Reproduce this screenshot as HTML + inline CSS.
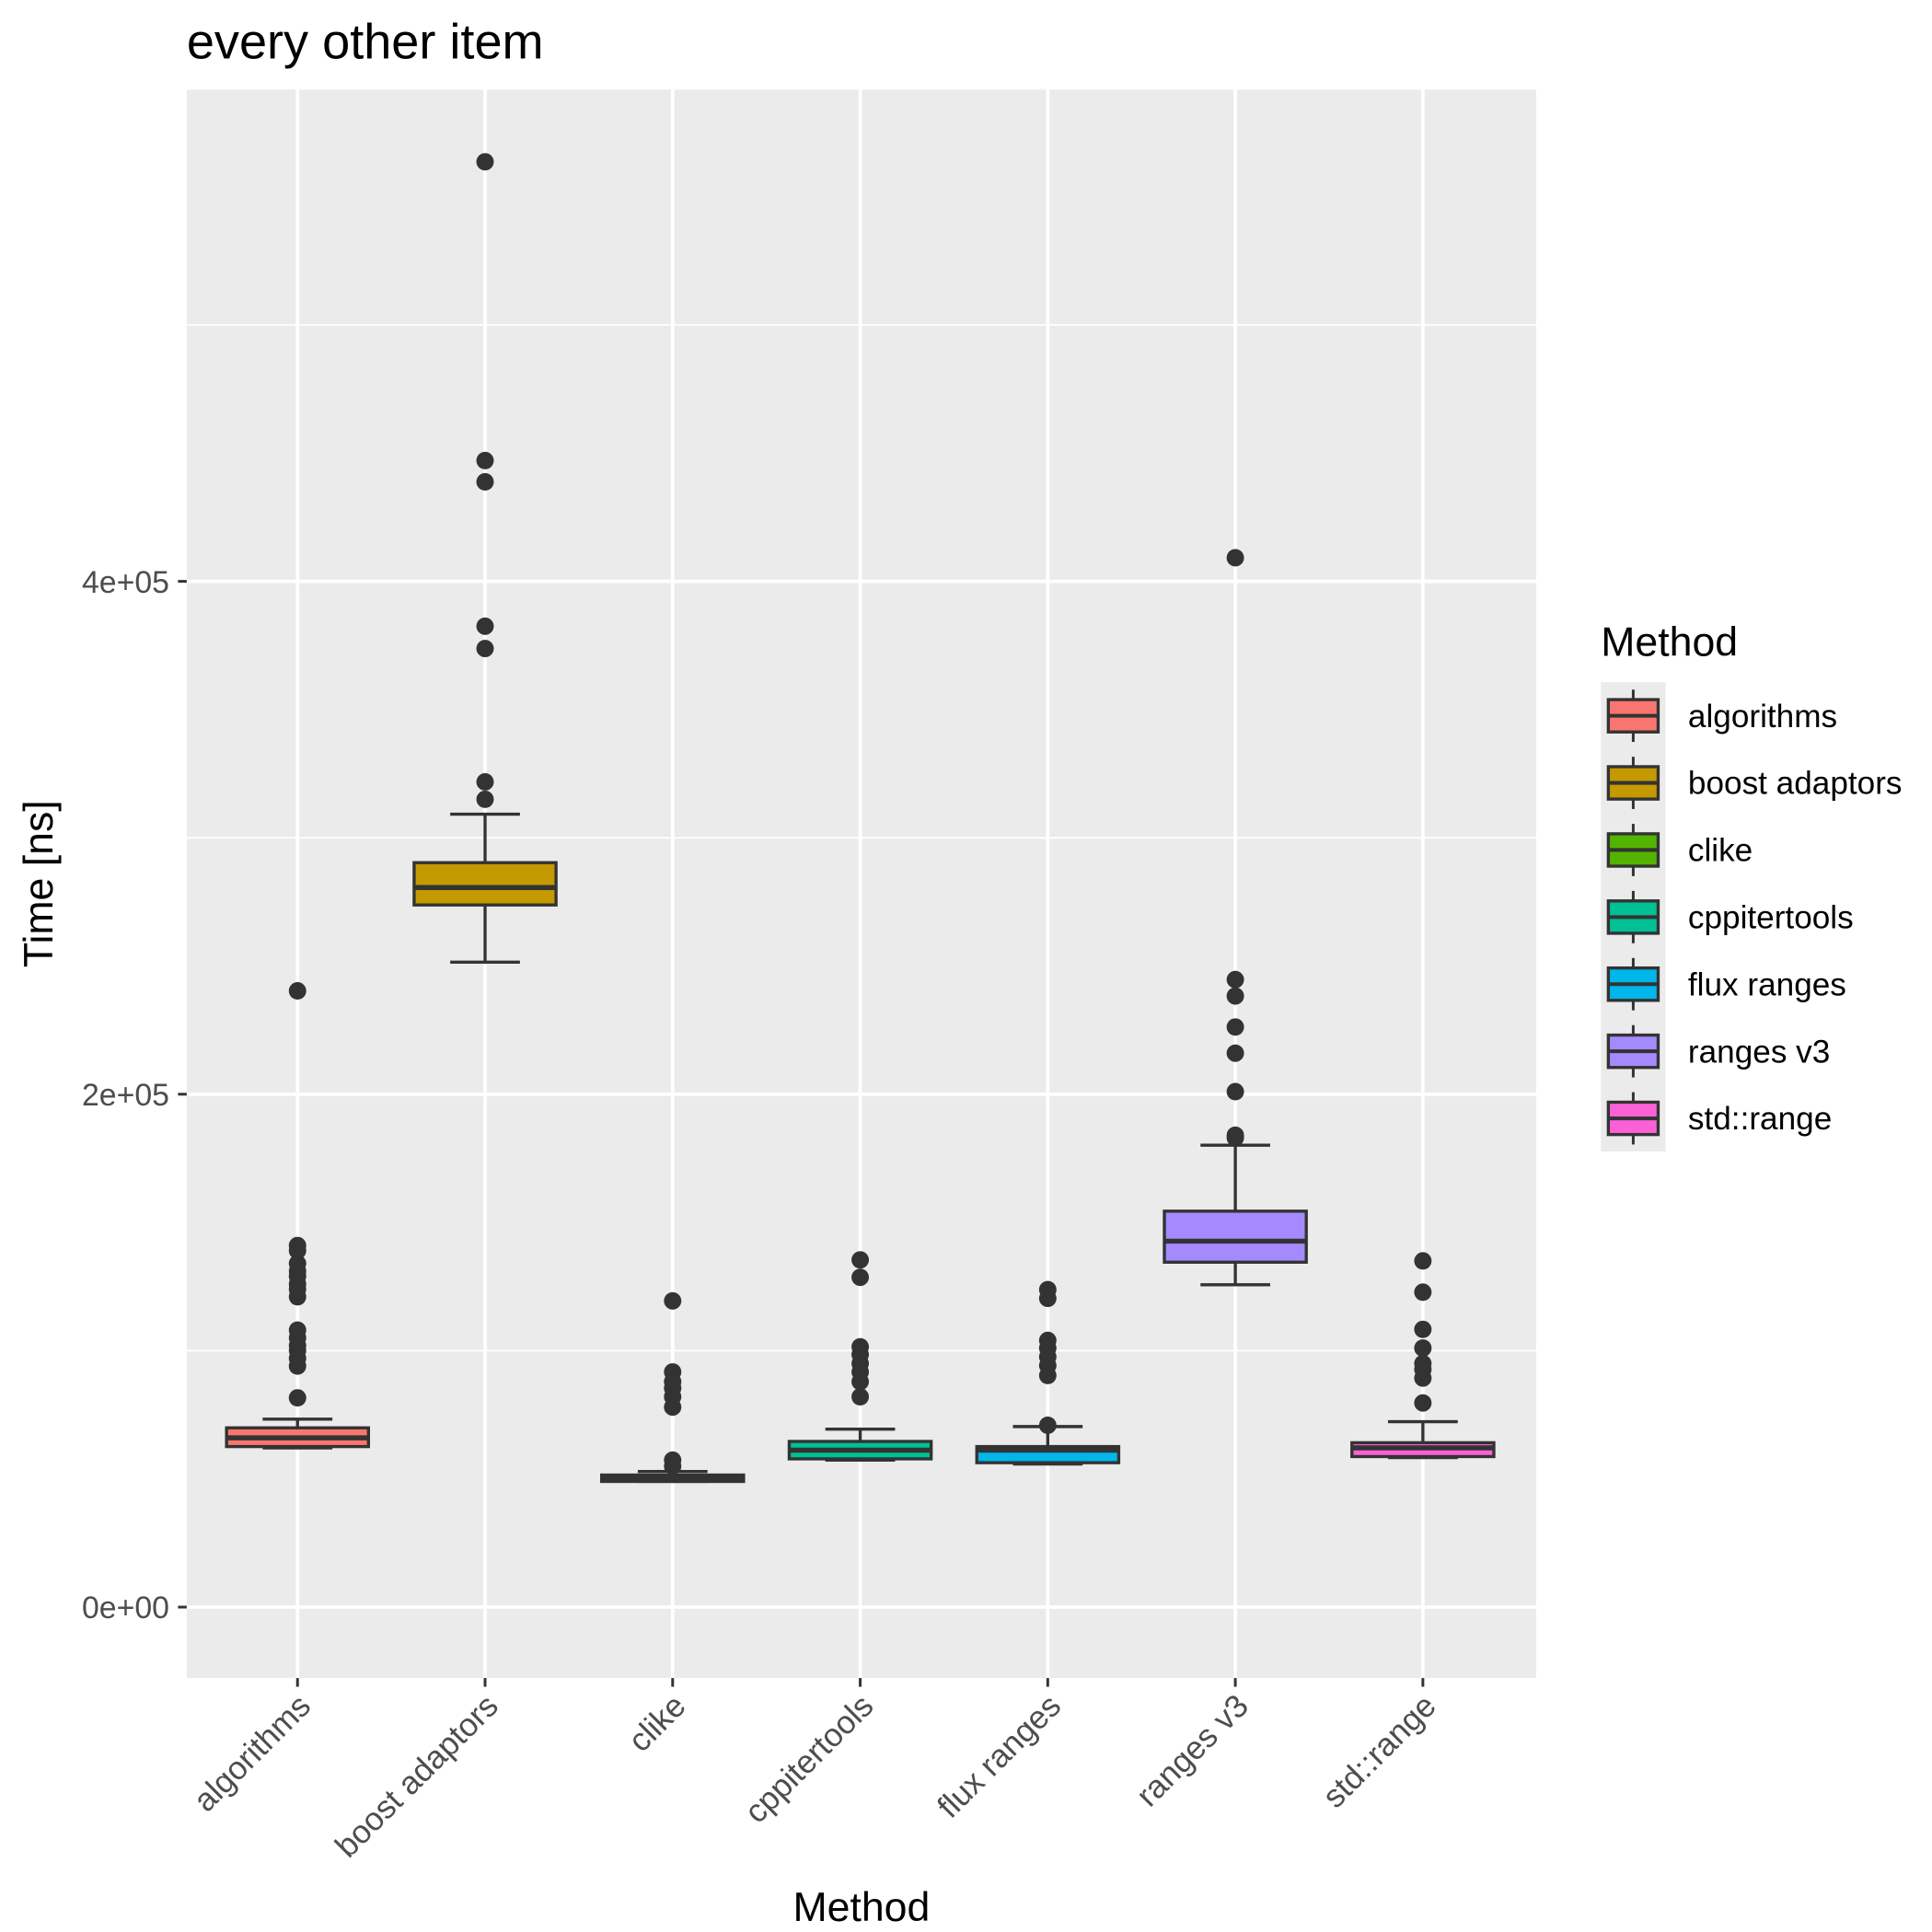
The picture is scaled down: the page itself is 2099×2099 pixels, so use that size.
<!DOCTYPE html>
<html><head><meta charset="utf-8"><style>html,body{margin:0;padding:0;background:#fff}svg{display:block}</style></head>
<body>
<svg id="chart" width="2099" height="2099" viewBox="0 0 1552 1552" xmlns="http://www.w3.org/2000/svg" font-family="Liberation Sans, Arial, sans-serif">
<rect width="1552" height="1552" fill="#fff"/>
<text x="150" y="47" font-size="40" fill="#000">every other item</text>
<rect x="150" y="72" width="1084" height="1276" fill="#ebebeb"/>
<g id="grid"></g>
<g id="boxes"></g>
<g id="axes"></g>
<text transform="translate(42,710) rotate(-90)" text-anchor="middle" font-size="33" fill="#000">Time [ns]</text>
<text x="692" y="1543" text-anchor="middle" font-size="33" fill="#000">Method</text>
<g id="legend">
<text x="1286" y="527" font-size="33" fill="#000">Method</text>
</g>
</svg>
<script>
const categories = ["algorithms","boost adaptors","clike","cppitertools","flux ranges","ranges v3","std::range"];
const colors = ["#F8766D","#C49A00","#53B400","#00C094","#00B6EB","#A58AFF","#FB61D7"];
const lowerWhisker = [62100,251500,49000,57300,55800,125700,58300];
const q1 = [62600,273800,49000,57800,56300,134500,58700];
const median = [66000,280600,50000,61200,61200,142700,62100];
const q3 = [69900,290300,51500,64600,62600,154400,64100];
const upperWhisker = [73300,309200,52900,69400,70400,180100,72300];
const outliers = [
 [240300,141000,139000,134000,131000,129000,126000,124000,121000,108000,105000,102000,100000,97000,94000,81600],
 [563600,447100,438800,382500,373800,321800,315000],
 [119400,91700,87900,85400,82000,78000,57300,54900],
 [135400,128600,101500,98500,95000,91700,87900,82000],
 [123800,120400,104000,101000,97600,94200,90300,70900],
 [409200,244700,238300,226200,216000,201000,184000,183000],
 [135000,122800,108300,101000,95000,92700,89300,79600]
];
const yTicks = [0,200000,400000];
const yTickLabels = ["0e+00","2e+05","4e+05"];
const yMinor = [100000,300000,500000];

const NS="http://www.w3.org/2000/svg";
function y(v){return 1291 - v/200000*412;}
function x(i){return 239 + i*150.67;}
function mk(parent,tag,attrs){const e=document.createElementNS(NS,tag);for(const k in attrs)e.setAttribute(k,attrs[k]);parent.appendChild(e);return e;}
const grid=document.getElementById('grid');
yMinor.forEach(v=>{const l=mk(grid,'line',{x1:150,x2:1234,y1:y(v),y2:y(v),stroke:'#fff','stroke-width':1.3});

});
yTicks.forEach(v=>{const l=mk(grid,'line',{x1:150,x2:1234,y1:y(v),y2:y(v),stroke:'#fff','stroke-width':2.8});

});
categories.forEach((c,i)=>{const l=mk(grid,'line',{x1:x(i),x2:x(i),y1:72,y2:1348,stroke:'#fff','stroke-width':2.8});

});
const boxes=document.getElementById('boxes');
const hw=57;
categories.forEach((c,i)=>{
 const g=mk(boxes,'g',{});
 
 
 const cx=x(i);
 mk(g,'line',{x1:cx,x2:cx,y1:y(q3[i]),y2:y(upperWhisker[i]),stroke:'#333','stroke-width':2.5});
 mk(g,'line',{x1:cx,x2:cx,y1:y(q1[i]),y2:y(lowerWhisker[i]),stroke:'#333','stroke-width':2.5});
 mk(g,'line',{x1:cx-28,x2:cx+28,y1:y(upperWhisker[i]),y2:y(upperWhisker[i]),stroke:'#333','stroke-width':2.5});
 mk(g,'line',{x1:cx-28,x2:cx+28,y1:y(lowerWhisker[i]),y2:y(lowerWhisker[i]),stroke:'#333','stroke-width':2.5});
 mk(g,'rect',{x:cx-hw,y:y(q3[i]),width:2*hw,height:Math.max(y(q1[i])-y(q3[i]),1),fill:colors[i],stroke:'#333','stroke-width':2.5});
 mk(g,'line',{x1:cx-hw,x2:cx+hw,y1:y(median[i]),y2:y(median[i]),stroke:'#333','stroke-width':4});
 outliers[i].forEach(v=>{const p=mk(g,'circle',{cx:cx,cy:y(v),r:7,fill:'#333'});
 
 });
});
const axes=document.getElementById('axes');
yTicks.forEach((v,k)=>{
 mk(axes,'line',{x1:143,x2:150,y1:y(v),y2:y(v),stroke:'#333','stroke-width':2.2});
 const t=mk(axes,'text',{x:136,y:y(v)+9,'text-anchor':'end','font-size':25,fill:'#4d4d4d'});
 t.textContent=yTickLabels[k];
 
 
});
categories.forEach((c,i)=>{
 mk(axes,'line',{x1:x(i),x2:x(i),y1:1348,y2:1355,stroke:'#333','stroke-width':2.2});
 const t=mk(axes,'text',{transform:'translate('+(x(i)+12)+',1372) rotate(-45)','text-anchor':'end','font-size':26,fill:'#4d4d4d'});
 t.textContent=c;
 
 
});
const leg=document.getElementById('legend');
mk(leg,'rect',{x:1286,y:548,width:52,height:377,fill:'#ebebeb'});
categories.forEach((c,i)=>{
 const cy=575+i*53.9;
 const g=mk(leg,'g',{});
 
 
 mk(g,'line',{x1:1312,x2:1312,y1:cy-21,y2:cy+21,stroke:'#333','stroke-width':2.2});
 mk(g,'rect',{x:1292,y:cy-13,width:40,height:26,fill:colors[i],stroke:'#333','stroke-width':2.5});
 mk(g,'line',{x1:1292,x2:1332,y1:cy,y2:cy,stroke:'#333','stroke-width':3});
 const t=mk(g,'text',{x:1356,y:cy+9,'font-size':26,fill:'#000'});
 t.textContent=c;
});
</script>
</body></html>
